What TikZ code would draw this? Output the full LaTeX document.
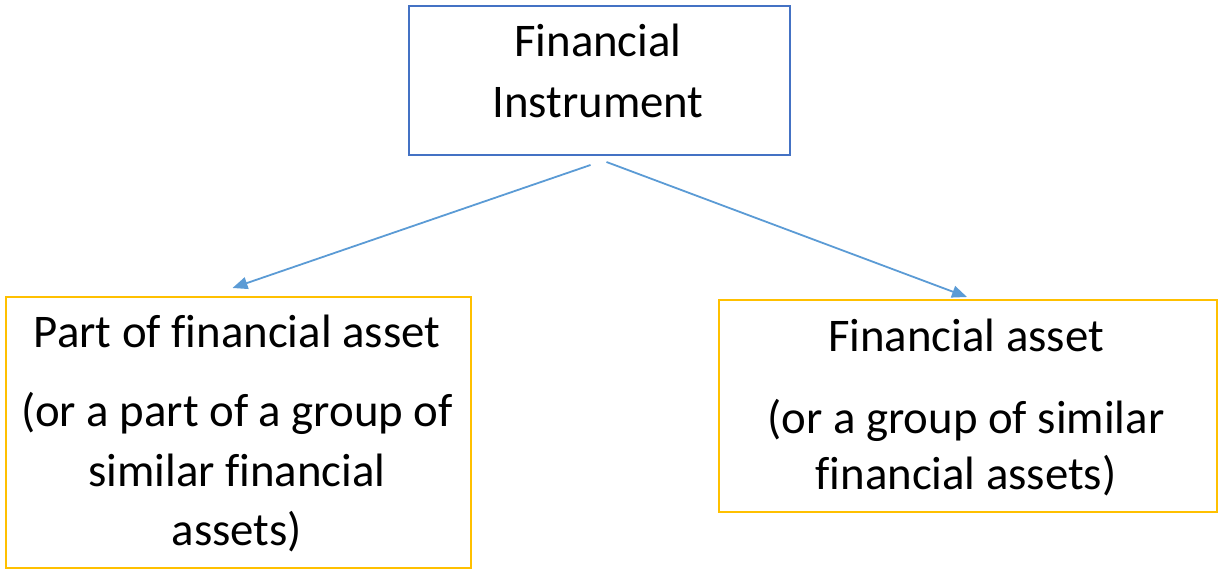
\documentclass[tikz,border=0pt]{standalone}
\usepackage{fontspec}
\setmainfont[Ligatures=NoCommon]{Carlito}
\usetikzlibrary{arrows.meta,calc}
\definecolor{boxblue}{HTML}{4472C4}
\definecolor{boxgold}{HTML}{FFC000}
\definecolor{linkblue}{HTML}{5B9BD5}
\begin{document}
\begin{tikzpicture}[x=1pt,y=-1pt,
  box/.style={draw,line width=2pt,inner sep=0pt,anchor=north west},
  line/.style={anchor=base,inner sep=0pt,font=\fontsize{46.8}{54}\selectfont},
  link/.style={draw=linkblue,line width=1.8pt,-{Triangle[length=15pt,width=12pt]}}]
\useasboundingbox (0,0) rectangle (1218,569);

% boxes
\node[box,draw=boxblue,minimum width=381pt,minimum height=149pt] (top) at (408,5) {};
\node[box,draw=boxgold,minimum width=465pt,minimum height=271pt] (left) at (5,296) {};
\node[box,draw=boxgold,minimum width=498pt,minimum height=212pt] (right) at (718,299) {};

% texts
\node[line] (t1) at (598,57) {Financial};
\node[line] (t2) at (598,118) {Instrument};

\node[line] (l1) at (237,348) {Part of financial asset};
\node[line] (l2) at (237,426) {(or a part of a group of};
\node[line] (l3) at (237,486) {similar financial};
\node[line] (l4) at (237,545) {assets)};

\node[line] (r1) at (966,351) {Financial asset};
\node[line] (r2) at (966,433) {(or a group of similar};
\node[line] (r3) at (966,489) {financial assets)};

% connectors
\coordinate (s1) at ($(top.south)+(-9,9)$);
\coordinate (s2) at ($(top.south)+(7,6)$);
\coordinate (e1) at ($(left.north)+(-6,-8)$);
\coordinate (e2) at ($(right.north)+(-1,-2)$);
\draw[link] (s1) -- (e1);
\draw[link] (s2) -- (e2);
\end{tikzpicture}
\end{document}
